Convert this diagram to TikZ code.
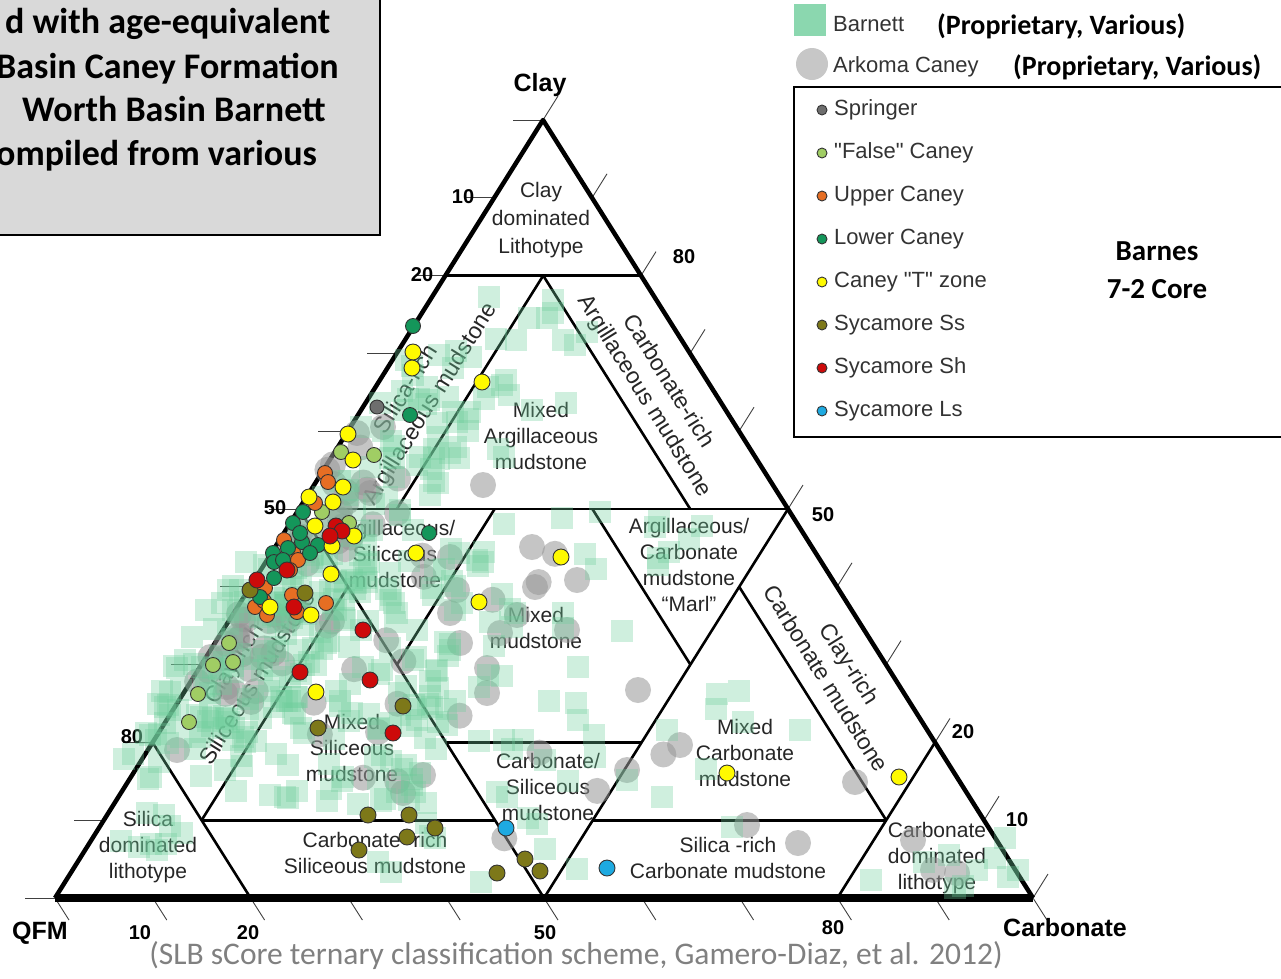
\documentclass[tikz,border=0pt]{standalone}
\usepackage{fontspec}
\setmainfont{Liberation Sans}[Ligatures=TeXOff]
\newfontfamily\calibri{Carlito}
\usetikzlibrary{positioning}

\definecolor{barnettgreen}{RGB}{110,205,155}
\definecolor{arkomagray}{RGB}{150,150,150}
\definecolor{springer}{RGB}{110,110,110}
\definecolor{falsecaney}{RGB}{160,205,100}
\definecolor{uppercaney}{RGB}{230,110,35}
\definecolor{lowercaney}{RGB}{20,150,90}
\definecolor{tzone}{RGB}{255,250,0}
\definecolor{sycss}{RGB}{125,120,25}
\definecolor{sycsh}{RGB}{205,10,10}
\definecolor{sycls}{RGB}{30,170,225}
\definecolor{boxgray}{RGB}{217,217,217}

% clay fraction, carbonate fraction -> point of the ternary plot
\newcommand{\tern}[2]{({55+488*(#1)+978*(#2)},{898-778*(#1)})}

\tikzset{
  outer/.style={line width=4.5pt, line join=round},
  basel/.style={line width=8pt},
  part/.style={line width=2.6pt},
  tick/.style={line width=0.9pt, black!75},
  region/.style={font=\fontsize{21}{26}\selectfont, align=center, inner sep=0pt, text=black!85},
  band/.style={region, font=\fontsize{23}{28}\selectfont},
  scalenum/.style={font=\fontsize{20}{20}\selectfont\bfseries, inner sep=0pt},
  corner/.style={font=\fontsize{25}{25}\selectfont\bfseries, inner sep=0pt},
  barnett/.style={fill=barnettgreen, fill opacity=0.33},
  arkoma/.style={fill=arkomagray, fill opacity=0.55},
  core/.style={draw=black!80, line width=0.9pt},
  legtext/.style={font=\fontsize{22}{22}\selectfont, text=black!80, anchor=west, inner sep=0pt},
  proptext/.style={font=\calibri\fontsize{28}{28}\selectfont\bfseries, anchor=west, inner sep=0pt},
  note/.style={font=\calibri\fontsize{36}{36}\selectfont\bfseries, anchor=base west, inner sep=0pt}
}

\begin{document}
\begin{tikzpicture}[x=1pt,y=-1pt]
\useasboundingbox (0,0) rectangle (1281,978);

% note box, cut by the page
\draw[fill=boxgray, line width=2.2pt] (-10,-10) rectangle (380,235);
\node[note] (note1) at (5,33) {d with age-equivalent};
\node[note] (note2) at (-4,78) {Basin Caney Formation};
\node[note] (note3) at (22,121) {Worth Basin Barnett};
\node[note] (note4) at (-4,165) {ompiled from various};

% corners
\coordinate (Q) at (55,898);
\coordinate (C) at (543,120);
\coordinate (K) at (1033,898);

% ticks
\foreach \i in {0,...,10} {
  \draw[tick] \tern{\i/10}{0} -- ++(-30,0);
  \draw[tick] \tern{0}{\i/10} -- ++(14,22);
  \draw[tick] \tern{\i/10}{1-\i/10} -- ++(15,-24);
}

% class boundaries
\draw[part] \tern{0.8}{0} -- \tern{0.8}{0.2};
\draw[part] \tern{0.8}{0.1} -- \tern{0.5}{0.1};
\draw[part] \tern{0.8}{0.1} -- \tern{0.5}{0.4};
\draw[part] \tern{0.5}{0} -- \tern{0.5}{0.5};
\draw[part] \tern{0.5}{0} -- \tern{0}{0.5};
\draw[part] \tern{0.5}{0.5} -- \tern{0}{0.5};
\draw[part] \tern{0.5}{0.2} -- \tern{0.3}{0.2};
\draw[part] \tern{0.5}{0.3} -- \tern{0.3}{0.5};
\draw[part] \tern{0.2}{0.3} -- \tern{0.2}{0.5};
\draw[part] \tern{0.4}{0.1} -- \tern{0.1}{0.1};
\draw[part] \tern{0.4}{0.5} -- \tern{0.1}{0.8};
\draw[part] \tern{0.1}{0.1} -- \tern{0.1}{0.4};
\draw[part] \tern{0.1}{0.5} -- \tern{0.1}{0.8};
\draw[part] \tern{0.2}{0} -- \tern{0}{0.2};
\draw[part] \tern{0.2}{0.8} -- \tern{0}{0.8};
\draw[outer] (Q) -- (C) -- (K);
\draw[basel] (Q) -- (K);

% scale numbers
\node[scalenum] (l10) at (463,197) {10};
\node[scalenum] (l20) at (422,275) {20};
\node[scalenum] (l50) at (275,508) {50};
\node[scalenum] (l80) at (132,737) {80};
\node[scalenum] (b10) at (140,933) {10};
\node[scalenum] (b20) at (248,933) {20};
\node[scalenum] (b50) at (545,933) {50};
\node[scalenum] (b80) at (833,928) {80};
\node[scalenum] (r80) at (684,257) {80};
\node[scalenum] (r50) at (823,515) {50};
\node[scalenum] (r20) at (963,732) {20};
\node[scalenum] (r10) at (1017,820) {10};
\node[corner] (clay) at (540,85) {Clay};
\node[corner] (qfm) at (40,933) {QFM};
\node[corner] (carb) at (1065,928) {Carbonate};

% class names
\node[region, font=\fontsize{21}{28}\selectfont] (claydom) at (541,220) {Clay\\dominated\\Lithotype};
\node[band, rotate=58] (silarg) at (419,397) {Silica-rich\\Argillaceous mudstone};
\node[band, rotate=-58] (carbarg) at (656,389) {Carbonate-rich\\Argillaceous mudstone};
\node[region] (mixarg) at (541,436) {Mixed\\Argillaceous\\mudstone};
\node[region] (argsil) at (395,554) {Argillaceous/\\Siliceous\\mudstone};
\node[region] (mixmud) at (536,628) {Mixed\\mudstone};
\node[region] (marl) at (689,565) {Argillaceous/\\Carbonate\\mudstone\\“Marl”};
\node[band, rotate=58] (claysil) at (245,670) {Clay-rich\\Siliceous mudstone};
\node[band, rotate=-58] (claycarb) at (838,671) {Clay-rich\\Carbonate mudstone};
\node[region] (mixsil) at (352,748) {Mixed\\Siliceous\\mudstone};
\node[region] (carbsil) at (548,787) {Carbonate/\\Siliceous\\mudstone};
\node[region] (mixcarb) at (745,753) {Mixed\\Carbonate\\mudstone};
\node[region] (sildom) at (148,847) {Silica\\dominated\\lithotype};
\node[region] (carbrich) at (375,853) {Carbonate -rich\\Siliceous mudstone};
\node[region] (silrich) at (728,858) {Silica -rich\\Carbonate mudstone};
\node[region] (carbdom) at (937,858) {Carbonate\\dominated\\lithotype};

% Arkoma Caney
\foreach \x/\y in {532/547, 535/587, 577/580, 517/615, 567/630, 487/668, 487/693,
  500/633, 460/643, 638/690, 680/745, 627/770, 450/613, 450/557, 457/590, 483/485,
  423/775, 403/793, 747/825, 798/843, 855/782, 913/840, 933/870, 957/873, 177/750,
  227/687, 378/732, 383/427, 357/433, 370/493, 397/513}
  \fill[arkoma] (\x,\y) circle (13pt);
\pgfmathsetseed{11}
\foreach \ca/\cb/\ka/\kb/\n in {0.25/0.6/0/0.09/50, 0.15/0.45/0.1/0.3/16, 0.05/0.2/0.4/0.75/4} {
  \foreach \i in {1,...,\n} {
    \pgfmathsetmacro{\cc}{\ca+(\cb-\ca)*rnd}
    \pgfmathsetmacro{\kk}{\ka+(\kb-\ka)*rnd}
    \fill[arkoma] \tern{\cc}{\kk} circle (13pt);
  }
}

% Barnett
\pgfmathsetseed{5}
\foreach \ca/\cb/\ka/\kb/\n in {0.45/0.72/0.01/0.13/60, 0.2/0.45/-0.03/0.12/130,
  0.12/0.45/0.08/0.3/110, 0.5/0.78/0.05/0.22/20, 0.2/0.5/0.2/0.45/34,
  0.06/0.22/-0.02/0.1/22, 0.02/0.22/0.3/0.7/24, 0/0.08/0.82/0.97/10,
  0.12/0.3/0.5/0.65/5} {
  \foreach \i in {1,...,\n} {
    \pgfmathsetmacro{\cc}{\ca+(\cb-\ca)*rnd}
    \pgfmathsetmacro{\kk}{\ka+(\kb-\ka)*rnd}
    \fill[barnett] \tern{\cc}{\kk} ++(-11,-11) rectangle ++(22,22);
  }
}

% Barnes 7-2 core
\filldraw[springer, core] (377,407) circle (7pt);
\foreach \x/\y in {341/452, 374/455, 349/523, 229/643, 213/665, 233/662, 198/694, 189/722, 322/512}
  \filldraw[falsecaney, core] (\x,\y) circle (7.5pt);
\foreach \x/\y in {325/473, 328/482, 315/503, 293/552, 298/560, 290/570, 265/588, 255/607,
  267/615, 292/595, 326/603, 297/612, 284/540, 264/601}
  \filldraw[uppercaney, core] (\x,\y) circle (7.5pt);
\foreach \x/\y in {413/326, 410/415, 303/512, 293/523, 302/542, 318/545, 273/553, 310/553,
  429/533, 274/562, 274/578, 260/597, 300/533, 288/548, 283/560}
  \filldraw[lowercaney, core] (\x,\y) circle (7.5pt);
\foreach \x/\y in {413/352, 412/368, 482/382, 348/434, 353/460, 343/487, 309/497, 333/502,
  315/526, 354/536, 332/546, 416/553, 331/574, 270/607, 311/615, 316/692, 561/557,
  479/602, 727/773, 899/777}
  \filldraw[tzone, core] (\x,\y) circle (8pt);
\foreach \x/\y in {250/590, 305/593, 403/706, 318/728, 368/815, 409/815, 435/828, 407/837,
  359/850, 525/859, 540/871, 497/873}
  \filldraw[sycss, core] (\x,\y) circle (8pt);
\foreach \x/\y in {336/526, 342/531, 330/536, 287/570, 257/580, 294/607, 363/630, 300/672,
  370/680, 393/733}
  \filldraw[sycsh, core] (\x,\y) circle (8pt);
\foreach \x/\y in {506/828, 607/868}
  \filldraw[sycls, core] (\x,\y) circle (8pt);

% legend
\fill[barnettgreen!80] (794,4) rectangle (826,36);
\node[legtext] (barnett) at (833,24) {Barnett};
\node[proptext] (prop1) at (937,26) {(Proprietary, Various)};
\fill[black!22] (812,64) circle (16pt);
\node[legtext] (arkoma) at (833,67) {Arkoma Caney};
\node[proptext] (prop2) at (1013,67) {(Proprietary, Various)};
\draw[line width=2.5pt, fill=white] (794,87) rectangle (1295,437);
\foreach \col/\txt [count=\j] in {springer/Springer, falsecaney/"False" Caney,
  uppercaney/Upper Caney, lowercaney/Lower Caney, tzone/Caney "T" zone,
  sycss/Sycamore Ss, sycsh/Sycamore Sh, sycls/Sycamore Ls} {
  \filldraw[\col, core] (822,{110+43*(\j-1)}) circle (5pt);
  \node[legtext] (leg\j) at (834,{110+43*(\j-1)}) {\txt};
}
\node[font=\calibri\fontsize{29}{38}\selectfont\bfseries, align=center] (core) at (1157,270) {Barnes\\7-2 Core};

\node[font=\calibri\fontsize{31.5}{31.5}\selectfont, text=black!50] (source) at (576,955)
  {(SLB sCore ternary classification scheme, Gamero-Diaz, et al. 2012)};
\end{tikzpicture}
\end{document}
